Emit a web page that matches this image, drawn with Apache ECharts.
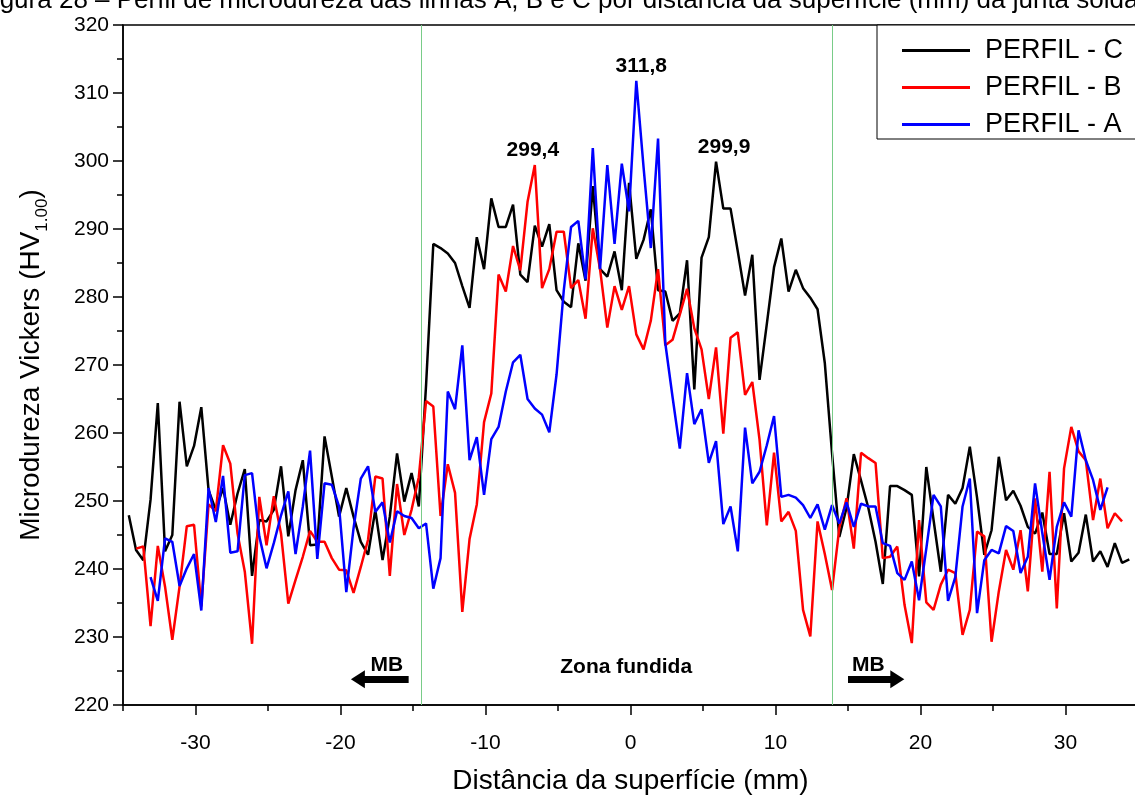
<!DOCTYPE html>
<html>
<head>
<meta charset="utf-8">
<script src="https://cdn.jsdelivr.net/npm/echarts@6/dist/echarts.min.js"></script>
<style>
  html, body { margin: 0; padding: 0; overflow: hidden; background: #fff; }
  #chart { width: 1141px; height: 801px; }
</style>
</head>
<body>
<div id="chart"></div>
<script>
// distance from the surface (mm), same sampling for the three profiles
var dist = [
  -34.6,-34.1,-33.6,-33.1,-32.6,-32.1,-31.6,-31.1,-30.6,-30.1,
  -29.6,-29.1,-28.6,-28.1,-27.6,-27.1,-26.6,-26.1,-25.6,-25.1,
  -24.6,-24.1,-23.6,-23.1,-22.6,-22.1,-21.6,-21.1,-20.6,-20.1,
  -19.6,-19.1,-18.6,-18.1,-17.6,-17.1,-16.6,-16.1,-15.6,-15.1,
  -14.6,-14.1,-13.6,-13.1,-12.6,-12.1,-11.6,-11.1,-10.6,-10.1,
  -9.6,-9.1,-8.6,-8.1,-7.6,-7.1,-6.6,-6.1,-5.6,-5.1,
  -4.6,-4.1,-3.6,-3.1,-2.6,-2.1,-1.6,-1.1,-0.6,-0.1,
  0.4,0.9,1.4,1.9,2.4,2.9,3.4,3.9,4.4,4.9,
  5.4,5.9,6.4,6.9,7.4,7.9,8.4,8.9,9.4,9.9,
  10.4,10.9,11.4,11.9,12.4,12.9,13.4,13.9,14.4,14.9,
  15.4,15.9,16.4,16.9,17.4,17.9,18.4,18.9,19.4,19.9,
  20.4,20.9,21.4,21.9,22.4,22.9,23.4,23.9,24.4,24.9,
  25.4,25.9,26.4,26.9,27.4,27.9,28.4,28.9,29.4,29.9,
  30.4,30.9,31.4,31.9,32.4,32.9,33.4,33.9,34.4
];

var hvC = [
  247.9, 242.8, 241.3, 250.2, 264.4, 242.6, 245.0, 264.6, 255.1, 258.1,
  263.8, 251.6, 248.7, 251.9, 246.5, 251.1, 254.7, 239.0, 247.2, 247.0,
  248.7, 255.1, 244.8, 251.6, 256.0, 243.5, 243.6, 259.5, 253.6, 247.7,
  251.9, 247.7, 244.0, 242.1, 248.7, 241.3, 247.7, 257.0, 249.9, 254.1,
  249.2, 267.0, 287.8, 287.2, 286.4, 285.0, 281.6, 278.4, 288.8, 284.1,
  294.5, 290.3, 290.3, 293.6, 283.3, 282.2, 290.5, 287.4, 290.7, 281.0,
  279.3, 278.5, 287.9, 282.4, 296.3, 284.1, 283.0, 286.7, 281.0, 296.8,
  285.6, 288.4, 292.9, 281.0, 280.8, 276.5, 277.6, 285.4, 266.4, 285.8,
  288.8, 299.9, 293.0, 293.0, 286.7, 280.2, 286.2, 267.8, 276.0, 284.4,
  288.6, 280.8, 284.0, 281.3, 279.9, 278.2, 270.3, 257.0, 244.7, 249.0,
  256.9, 253.0, 249.0, 244.0, 237.8, 252.2, 252.2, 251.6, 250.9, 238.9,
  255.0, 247.2, 239.6, 250.9, 249.6, 251.9, 258.0, 250.5, 242.1, 245.7,
  256.5, 250.1, 251.5, 249.3, 246.2, 245.2, 248.3, 242.2, 242.2, 248.2,
  241.1, 242.4, 248.0, 241.1, 242.6, 240.3, 243.8, 240.9, 241.4
];

var hvB = [
  null, 243.0, 243.3, 231.6, 243.4, 237.4, 229.6, 237.4, 246.3, 246.5,
  234.5, 249.5, 248.5, 258.2, 255.5, 245.2, 239.6, 229.0, 250.6, 243.5,
  250.7, 245.2, 234.9, 238.4, 241.8, 245.6, 244.0, 244.0, 241.6, 239.9,
  239.8, 236.5, 240.3, 244.3, 253.6, 253.3, 239.0, 252.5, 245.0, 248.7,
  253.5, 264.7, 263.9, 247.8, 255.4, 251.2, 233.7, 244.4, 249.5, 261.6,
  265.8, 283.3, 280.8, 287.5, 283.9, 294.0, 299.4, 281.3, 284.1, 289.6,
  289.6, 281.3, 282.5, 276.8, 290.1, 284.1, 275.5, 281.6, 278.1, 281.6,
  274.5, 272.3, 276.5, 284.1, 272.9, 273.7, 277.4, 281.2, 275.4, 272.3,
  265.0, 272.6, 259.9, 274.0, 274.8, 265.6, 267.5, 259.0, 246.4, 257.1,
  247.0, 248.4, 245.6, 234.0, 230.1, 247.0, 242.2, 236.9, 246.0, 250.4,
  243.0, 257.1, 256.3, 255.6, 241.6, 241.8, 243.3, 234.7, 229.1, 247.2,
  235.1, 234.0, 237.7, 239.9, 239.4, 230.3, 234.0, 245.5, 244.8, 229.3,
  236.7, 242.8, 239.9, 245.7, 236.7, 250.4, 239.6, 254.3, 234.2, 254.8,
  260.9, 257.3, 256.0, 247.2, 253.3, 246.0, 248.2, 247.0, null
];

var hvA = [
  null, null, null, 238.8, 235.3, 244.5, 244.0, 237.5, 240.1, 242.2,
  233.9, 251.9, 246.9, 253.7, 242.4, 242.6, 253.8, 254.1, 244.8, 240.1,
  243.8, 247.9, 251.4, 242.2, 249.2, 257.4, 241.5, 252.6, 252.4, 249.2,
  236.6, 246.0, 253.3, 255.1, 248.4, 249.8, 243.9, 248.5, 247.8, 247.5,
  246.0, 246.7, 237.1, 241.6, 266.1, 263.5, 272.9, 256.0, 259.4, 250.9,
  259.1, 260.9, 266.1, 270.4, 271.5, 265.0, 263.6, 262.7, 260.1, 268.6,
  281.0, 290.3, 291.2, 282.6, 301.9, 284.1, 299.4, 287.8, 299.6, 292.6,
  311.8, 299.1, 287.2, 303.3, 273.2, 265.3, 257.7, 268.8, 261.3, 263.5,
  255.6, 258.8, 246.6, 249.2, 242.6, 260.8, 252.6, 254.3, 258.2, 262.5,
  250.6, 250.9, 250.5, 249.4, 247.5, 249.5, 245.8, 249.4, 246.7, 249.8,
  246.2, 249.6, 249.2, 249.2, 243.8, 243.4, 239.4, 238.4, 241.1, 235.4,
  243.0, 250.9, 249.2, 235.3, 238.8, 249.2, 253.3, 233.5, 241.3, 242.8,
  242.3, 246.3, 245.6, 239.4, 241.8, 252.6, 245.3, 238.4, 246.2, 249.8,
  247.7, 260.4, 256.0, 253.1, 248.7, 252.0, null, null, null
];

var names = ['PERFIL - C', 'PERFIL - B', 'PERFIL - A'];
var majorTicks = [-30, -20, -10, 0, 10, 20, 30];
var minorTicks = [-35, -25, -15, -5, 5, 15, 25, 35];
var zoneLimits = [-14.4, 13.9];

var font = "'Liberation Sans', Arial, sans-serif";

function pairs(vals) {
  return dist.map(function (d, i) { return [d, vals[i]]; })
             .filter(function (p) { return p[1] != null; });
}

function peakLabel(offset) {
  return {
    show: true, position: 'top', offset: offset, distance: 4,
    color: '#000', fontWeight: 'bold', fontSize: 21, fontFamily: font,
    formatter: function (p) { return p.value.toFixed(1).replace('.', ','); }
  };
}

function textMark(coord, text) {
  return {
    coord: coord, symbolSize: 0,
    label: { show: true, position: 'inside', formatter: text, color: '#000',
             fontWeight: 'bold', fontSize: 21, fontFamily: font }
  };
}

var chart = echarts.init(document.getElementById('chart'));

var option = {
  animation: false,
  graphic: [{
    type: 'text', left: -22, top: -12, silent: true,
    style: {
      text: 'Figura 28 – Perfil de microdureza das linhas A, B e C por distância da superfície (mm) da junta soldada',
      font: '26px ' + font, fill: '#000'
    }
  }],
  grid: {
    left: 123, right: 3, top: 25, bottom: 96,
    show: true, borderColor: '#000', borderWidth: 1.5
  },
  legend: {
    data: names, orient: 'vertical', left: 877, top: 25,
    padding: [12, 30, 1, 25], itemGap: 10, itemWidth: 68, itemHeight: 3,
    icon: 'rect',
    borderColor: '#000', borderWidth: 1, backgroundColor: '#fff',
    textStyle: { fontSize: 27, fontFamily: font, color: '#000', padding: [0, 0, 0, 10] }
  },
  xAxis: [{
    type: 'value', min: -35, max: 35, position: 'bottom',
    name: 'Distância da superfície (mm)', nameLocation: 'middle', nameGap: 62,
    nameTextStyle: { fontSize: 28, fontFamily: font, color: '#000' },
    splitLine: { show: false },
    axisLine: { onZero: false, lineStyle: { color: '#000', width: 1.5 } },
    axisTick: { customValues: majorTicks, length: 10, lineStyle: { color: '#000', width: 1.5 } },
    axisLabel: { customValues: majorTicks, margin: 28, fontSize: 21, fontFamily: font, color: '#000' }
  }, {
    type: 'value', min: -35, max: 35, position: 'bottom',
    splitLine: { show: false },
    axisLine: { show: false, onZero: false },
    axisTick: { customValues: minorTicks, length: 6, lineStyle: { color: '#000', width: 1.5 } },
    axisLabel: { show: false }
  }],
  yAxis: {
    type: 'value', min: 220, max: 320, interval: 10,
    name: '{m|Microdureza Vickers (HV}{s|1.00}{m|)}', nameLocation: 'middle', nameGap: 72,
    nameTextStyle: {
      rich: {
        m: { fontSize: 28, fontFamily: font, color: '#000', lineHeight: 34, verticalAlign: 'top' },
        s: { fontSize: 17, fontFamily: font, color: '#000', lineHeight: 34, verticalAlign: 'bottom' }
      }
    },
    splitLine: { show: false },
    axisLine: { show: true, onZero: false, lineStyle: { color: '#000', width: 1.5 } },
    axisTick: { length: 10, lineStyle: { color: '#000', width: 1.5 } },
    minorTick: { show: true, splitNumber: 2, length: 6, lineStyle: { color: '#000', width: 1.5 } },
    axisLabel: { margin: 14, fontSize: 21, fontFamily: font, color: '#000' }
  },
  series: [{
    name: names[0], type: 'line', data: pairs(hvC), symbol: 'none',
    lineStyle: { color: '#000', width: 2.5 }, itemStyle: { color: '#000' },
    emphasis: { disabled: true },
    markPoint: {
      silent: true, symbol: 'circle', symbolSize: 0,
      data: [
        { type: 'max', valueDim: 'y', label: peakLabel([8, 0]) },
        textMark([-16.8, 225.9], 'MB'),
        textMark([-0.3, 225.6], 'Zona fundida'),
        textMark([16.4, 225.9], 'MB')
      ]
    },
    markLine: {
      silent: true, symbol: ['none', 'none'], label: { show: false },
      data: [
        { xAxis: zoneLimits[0], lineStyle: { color: '#79cc88', width: 1, type: 'solid' } },
        { xAxis: zoneLimits[1], lineStyle: { color: '#79cc88', width: 1, type: 'solid' } },
        [
          { coord: [-15.3, 223.8], symbol: 'none' },
          { coord: [-18.8, 223.8], symbol: 'triangle', symbolSize: [18, 14],
            lineStyle: { color: '#000', width: 7, type: 'solid' } }
        ],
        [
          { coord: [15.0, 223.8], symbol: 'none' },
          { coord: [18.4, 223.8], symbol: 'triangle', symbolSize: [18, 14],
            lineStyle: { color: '#000', width: 7, type: 'solid' } }
        ]
      ]
    }
  }, {
    name: names[1], type: 'line', data: pairs(hvB), symbol: 'none',
    lineStyle: { color: '#ff0000', width: 2.5 }, itemStyle: { color: '#ff0000' },
    emphasis: { disabled: true },
    markPoint: {
      silent: true, symbol: 'circle', symbolSize: 0,
      data: [{ type: 'max', valueDim: 'y', label: peakLabel([-2, 0]) }]
    }
  }, {
    name: names[2], type: 'line', data: pairs(hvA), symbol: 'none',
    lineStyle: { color: '#0000ff', width: 2.5 }, itemStyle: { color: '#0000ff' },
    emphasis: { disabled: true },
    markPoint: {
      silent: true, symbol: 'circle', symbolSize: 0,
      data: [{ type: 'max', valueDim: 'y', label: peakLabel([5, 0]) }]
    }
  }]
};

chart.setOption(option);
</script>
</body>
</html>
